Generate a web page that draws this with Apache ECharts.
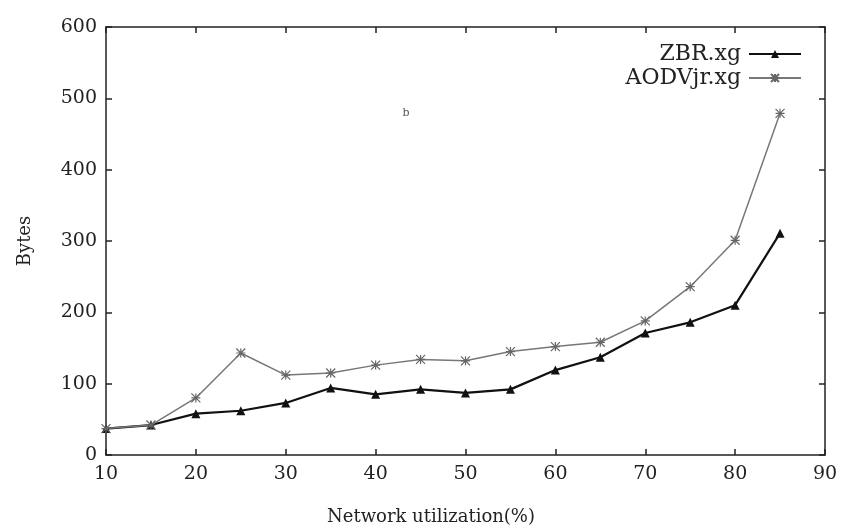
<!DOCTYPE html>
<html>
<head>
<meta charset="utf-8">
<script src="https://cdn.jsdelivr.net/npm/echarts@6/dist/echarts.min.js"></script>
<style>
  html, body { margin: 0; padding: 0; background: #fff; }
  #chart { width: 841px; height: 528px; }
</style>
</head>
<body>
<div id="chart"></div>
<script>
// network utilization (%) on x
var utilization = [10, 15, 20, 25, 30, 35, 40, 45, 50, 55, 60, 65, 70, 75, 80, 85];
var zbrBytes = [37, 42, 58, 62, 73, 94, 85, 92, 87, 92, 119, 137, 171, 186, 210, 311];
var aodvBytes = [37, 42, 80, 143, 112, 115, 126, 134, 132, 145, 152, 158, 188, 236, 301, 479];
var seriesNames = ['ZBR.xg', 'AODVjr.xg'];

var font = 'DejaVu Serif';
var starPath = 'path://M0,0L10,10M10,0L0,10M5,0L5,10M0,5L10,5';

function pairs(xs, ys) {
  return xs.map(function (x, i) { return [x, ys[i]]; });
}

// gnuplot style box: inward ticks mirrored on top / right
function xAx(pos, showLabel) {
  return {
    type: 'value', position: pos, min: 10, max: 90, interval: 10,
    axisLine: { show: true, onZero: false, lineStyle: { color: '#222', width: 1.5 } },
    axisTick: { show: true, inside: true, length: 6, lineStyle: { color: '#222', width: 1.5 } },
    axisLabel: { show: showLabel, color: '#222', fontFamily: font, fontSize: 19, margin: 10 },
    splitLine: { show: false }
  };
}
function yAx(pos, showLabel) {
  return {
    type: 'value', position: pos, min: 0, max: 600, interval: 100,
    axisLine: { show: true, onZero: false, lineStyle: { color: '#222', width: 1.5 } },
    axisTick: { show: true, inside: true, length: 6, lineStyle: { color: '#222', width: 1.5 } },
    axisLabel: { show: showLabel, color: '#222', fontFamily: font, fontSize: 19, margin: 9 },
    splitLine: { show: false }
  };
}

var chart = echarts.init(document.getElementById('chart'));
chart.setOption({
  animation: false,
  backgroundColor: '#fff',
  grid: { left: 106, right: 16, top: 27, bottom: 73 },
  xAxis: [xAx('bottom', true), xAx('top', false)],
  yAxis: [yAx('left', true), yAx('right', false)],
  legend: {
    orient: 'vertical', right: 34, top: 38, align: 'right',
    itemWidth: 52, itemHeight: 10, itemGap: 2,
    textStyle: { fontFamily: font, fontSize: 22, color: '#222', padding: [0, 3, 0, 0] },
    data: seriesNames
  },
  graphic: [
    { type: 'text', x: 25, y: 241, rotation: Math.PI / 2,
      style: { text: 'Bytes', font: '18px "DejaVu Serif"', fill: '#222', align: 'center', verticalAlign: 'middle' } },
    { type: 'text', x: 431, y: 517,
      style: { text: 'Network utilization(%)', font: '18px "DejaVu Serif"', fill: '#222', align: 'center', verticalAlign: 'middle' } },
    { type: 'text', x: 406, y: 113,
      style: { text: 'b', font: '11px "DejaVu Serif"', fill: '#555', align: 'center', verticalAlign: 'middle' } }
  ],
  series: [
    {
      name: seriesNames[0], type: 'line', xAxisIndex: 0, yAxisIndex: 0,
      data: pairs(utilization, zbrBytes),
      symbol: 'triangle', symbolSize: 9,
      lineStyle: { color: '#111', width: 2.2 },
      itemStyle: { color: '#111' }
    },
    {
      name: seriesNames[1], type: 'line', xAxisIndex: 0, yAxisIndex: 0,
      data: pairs(utilization, aodvBytes),
      symbol: starPath, symbolSize: 9,
      lineStyle: { color: '#777', width: 1.5 },
      itemStyle: { color: 'transparent', borderColor: '#666', borderWidth: 1.2 }
    }
  ]
});
</script>
</body>
</html>
